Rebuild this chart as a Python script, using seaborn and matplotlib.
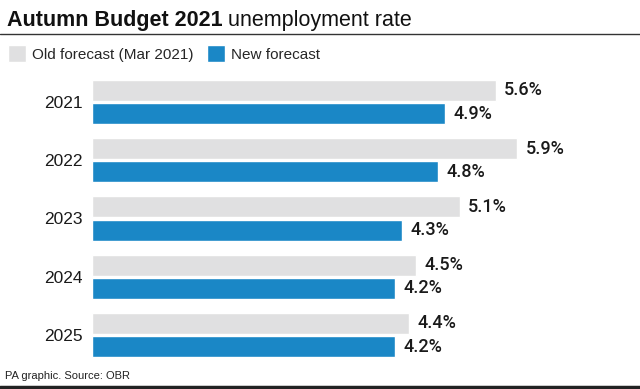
import seaborn as sns
import pandas as pd
import matplotlib.pyplot as plt
from matplotlib.lines import Line2D

years = ["2021", "2022", "2023", "2024", "2025"]
old_forecast = [5.6, 5.9, 5.1, 4.5, 4.4]
new_forecast = [4.9, 4.8, 4.3, 4.2, 4.2]
series_names = ["Old forecast (Mar 2021)", "New forecast"]
colors = ["#e0e0e1", "#1a87c6"]

df = pd.DataFrame({
    "year": years * 2,
    "rate": old_forecast + new_forecast,
    "series": [series_names[0]] * len(years) + [series_names[1]] * len(years),
})

sns.set_style("white")
plt.rcParams["font.family"] = ["Liberation Sans", "DejaVu Sans"]

fig = plt.figure(figsize=(6.4, 3.89), dpi=100)
ax = fig.add_axes([92 / 640, 1 - 364 / 389, 548 / 640, 291 / 389])

sns.barplot(data=df, y="year", x="rate", hue="series", orient="h",
            palette=colors, gap=0.1, width=0.8, ax=ax, saturation=1)

# value labels at the bar ends
for c in ax.containers:
    ax.bar_label(c, fmt="%.1f%%", padding=6, fontsize=13, color="#1a1a1a",
                 family=["Roboto", "Liberation Sans"], fontweight="medium")

ax.set_xlim(0, 7.6)
ax.set_ylim(4.5, -0.5)
ax.set_xlabel("")
ax.set_ylabel("")
ax.set_xticks([])
ax.tick_params(axis="y", length=0, labelsize=12.5, pad=7, labelcolor="#1a1a1a")
sns.despine(ax=ax, left=True, bottom=True)

sns.move_legend(ax, "upper left", bbox_to_anchor=(-90 / 548, 1 + 34 / 291),
                ncol=2, frameon=False, title=None, fontsize=11,
                handlelength=1.15, handleheight=1.3, handletextpad=0.4,
                columnspacing=0.9, borderaxespad=0)

# title: bold part, then regular part right after it
t1 = fig.text(0.011, 0.975, "Autumn Budget 2021", fontsize=15.5,
              fontweight="bold", va="top", ha="left", color="#111111")
fig.add_artist(plt.Annotation("unemployment rate", xy=(1, 0), xycoords=t1,
                              xytext=(4, 0), textcoords="offset points",
                              va="bottom", ha="left", fontsize=15.5,
                              color="#111111"))
fig.add_artist(Line2D([0, 1], [1 - 34 / 389, 1 - 34 / 389],
                      transform=fig.transFigure, color="#333333", lw=1))
fig.text(0.008, 1 - 376 / 389, "PA graphic. Source: OBR", fontsize=8,
         va="center", ha="left", color="#222222")
fig.add_artist(Line2D([0, 1], [1 - 387 / 389, 1 - 387 / 389],
                      transform=fig.transFigure, color="#222222", lw=2.5))

fig.savefig("out.png", dpi=100)
